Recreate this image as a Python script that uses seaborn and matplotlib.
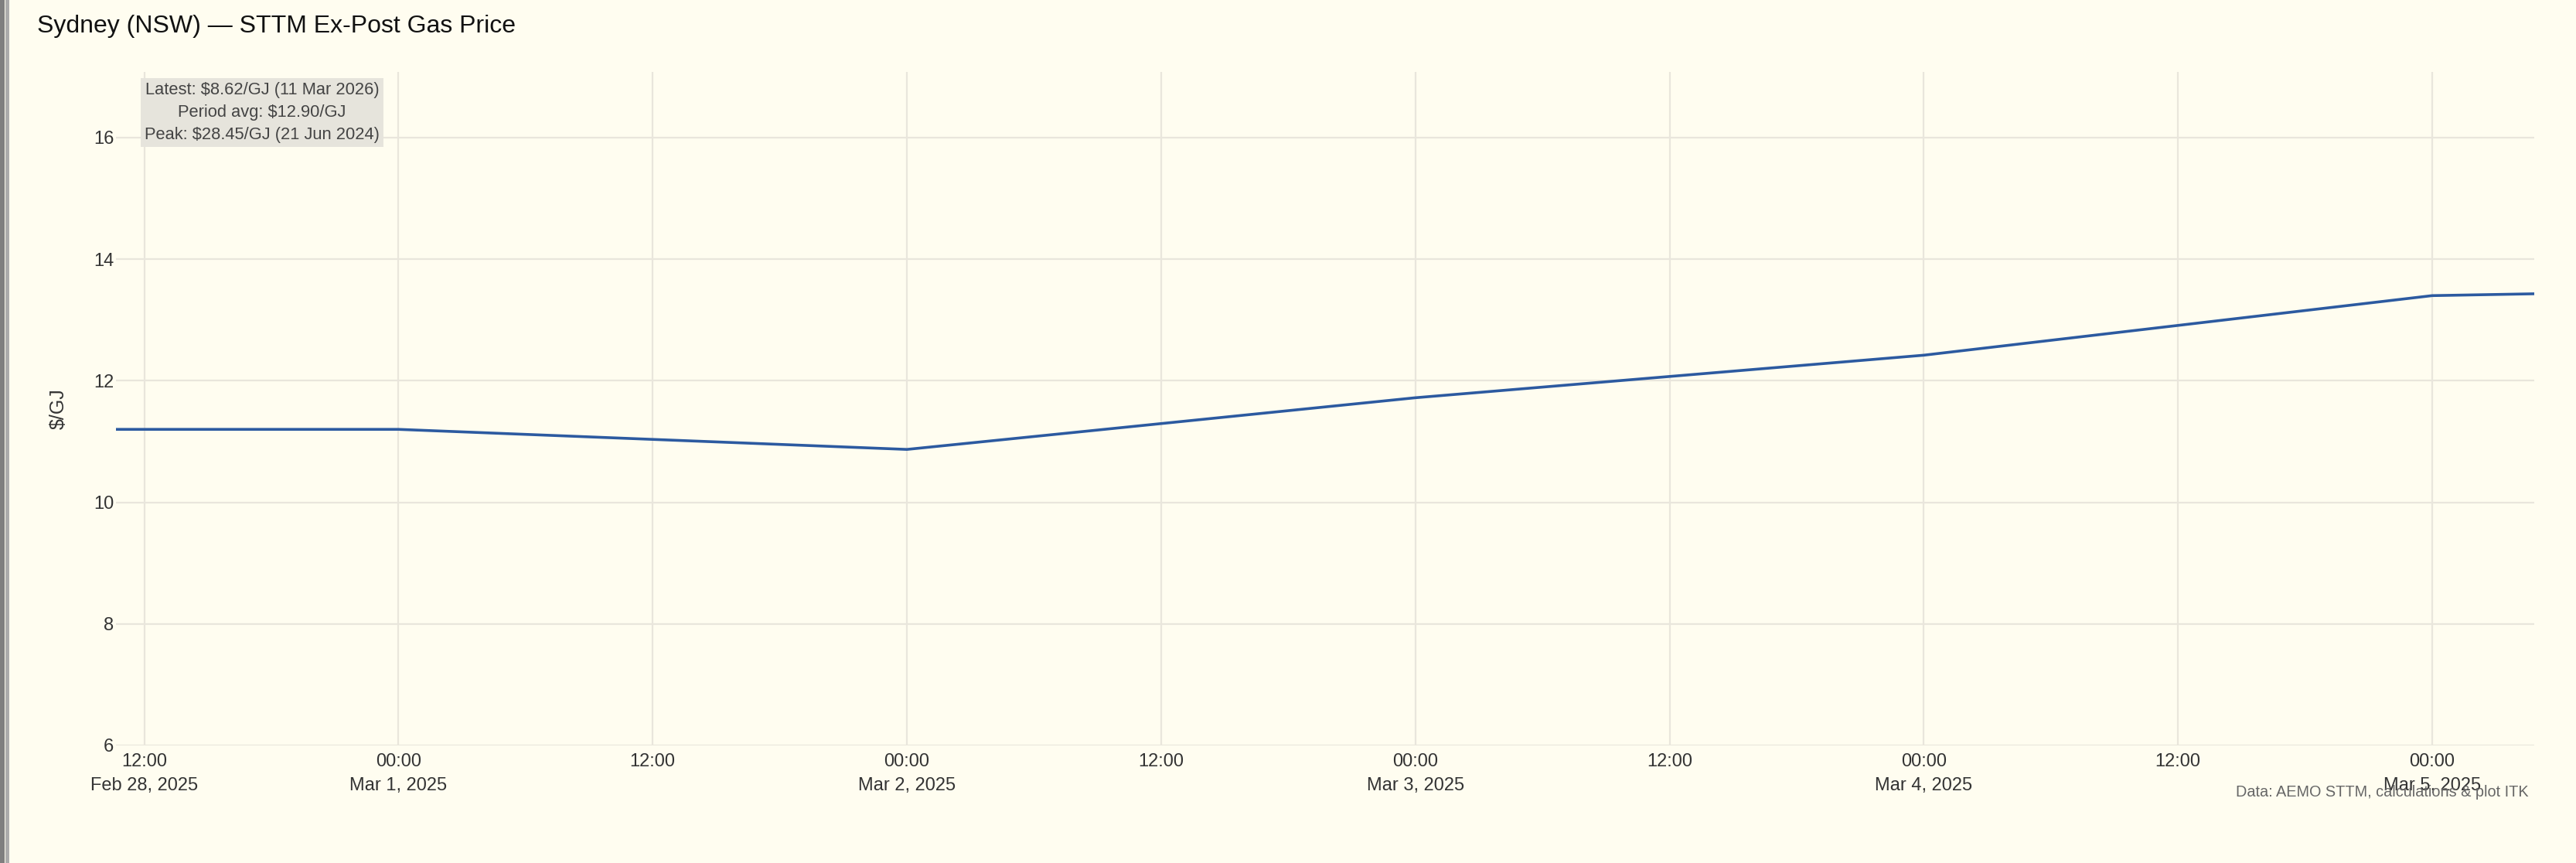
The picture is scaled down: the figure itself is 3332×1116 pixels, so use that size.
import pandas as pd
import seaborn as sns
import matplotlib.pyplot as plt
from matplotlib.patches import Rectangle

# daily STTM ex-post price, Sydney
dates = ["2025-02-28", "2025-03-01", "2025-03-02", "2025-03-03",
         "2025-03-04", "2025-03-05", "2025-03-06"]
prices = [11.20, 11.20, 10.87, 11.72, 12.42, 13.40, 13.55]

tick_times = ["2025-02-28 12:00", "2025-03-01 00:00", "2025-03-01 12:00",
              "2025-03-02 00:00", "2025-03-02 12:00", "2025-03-03 00:00",
              "2025-03-03 12:00", "2025-03-04 00:00", "2025-03-04 12:00",
              "2025-03-05 00:00"]
tick_labels = ["12:00\nFeb 28, 2025", "00:00\nMar 1, 2025", "12:00",
               "00:00\nMar 2, 2025", "12:00", "00:00\nMar 3, 2025",
               "12:00", "00:00\nMar 4, 2025", "12:00", "00:00\nMar 5, 2025"]
y_ticks = [6, 8, 10, 12, 14, 16]

stats_text = ("Latest: $8.62/GJ (11 Mar 2026)\n"
              "Period avg: $12.90/GJ\n"
              "Peak: $28.45/GJ (21 Jun 2024)")
caption = "Data: AEMO STTM, calculations & plot ITK"

df = pd.DataFrame({"date": pd.to_datetime(dates), "price": prices})

bg = "#fffdf0"
grid = "#e9e6dc"
sns.set_style("white", {"axes.facecolor": bg, "figure.facecolor": bg})
plt.rcParams["font.family"] = ["Liberation Sans", "DejaVu Sans"]

W, H = 3332, 1116
fig = plt.figure(figsize=(W / 200, H / 200), dpi=200)
ax = fig.add_axes([150 / W, (H - 964) / H, (3278 - 150) / W, (964 - 93) / H])

sns.lineplot(data=df, x="date", y="price", ax=ax, color="#2c5aa0", linewidth=1.3)

ax.set_xlim(pd.Timestamp("2025-02-28 10:40"), pd.Timestamp("2025-03-05 04:49"))
ax.set_ylim(6, 17.08)
ax.set_yticks(y_ticks)
ax.set_xticks(pd.to_datetime(tick_times))
ax.set_xticklabels(tick_labels, linespacing=1.55)
ax.tick_params(axis="both", length=0, labelsize=8.5, colors="#333333")
ax.tick_params(axis="x", pad=3.5)
ax.tick_params(axis="y", pad=1)
ax.grid(True, color=grid, linewidth=0.8)
ax.set_axisbelow(True)
for s in ax.spines.values():
    s.set_visible(False)

ax.set_xlabel("")
ax.set_ylabel("$/GJ", fontsize=9, color="#333333")
ax.yaxis.set_label_coords((88 - 150) / (3278 - 150), 0.5)

ax.text(0.0604, 0.985, stats_text, transform=ax.transAxes, ha="center", va="top",
        multialignment="center", fontsize=7.9, color="#444444", linespacing=1.5,
        bbox=dict(boxstyle="square,pad=0.22", fc="#e6e4dc", ec="none"))

fig.text(48 / W, 1 - 34 / H, "Sydney (NSW) \u2014 STTM Ex-Post Gas Price",
         ha="left", va="center", fontsize=11.5, color="#111111")
fig.text(3271 / W, 1 - 1030 / H, caption, ha="right", va="baseline",
         fontsize=7.15, color="#666666")

# window border on the left edge
fig.patches.append(Rectangle((0, 0), 6 / W, 1, transform=fig.transFigure,
                             fc="#7f7f7f", ec="none"))
fig.patches.append(Rectangle((7 / W, 0), 5 / W, 1, transform=fig.transFigure,
                             fc="#ababab", ec="none"))

fig.savefig("out.png", dpi=200, facecolor=bg)
